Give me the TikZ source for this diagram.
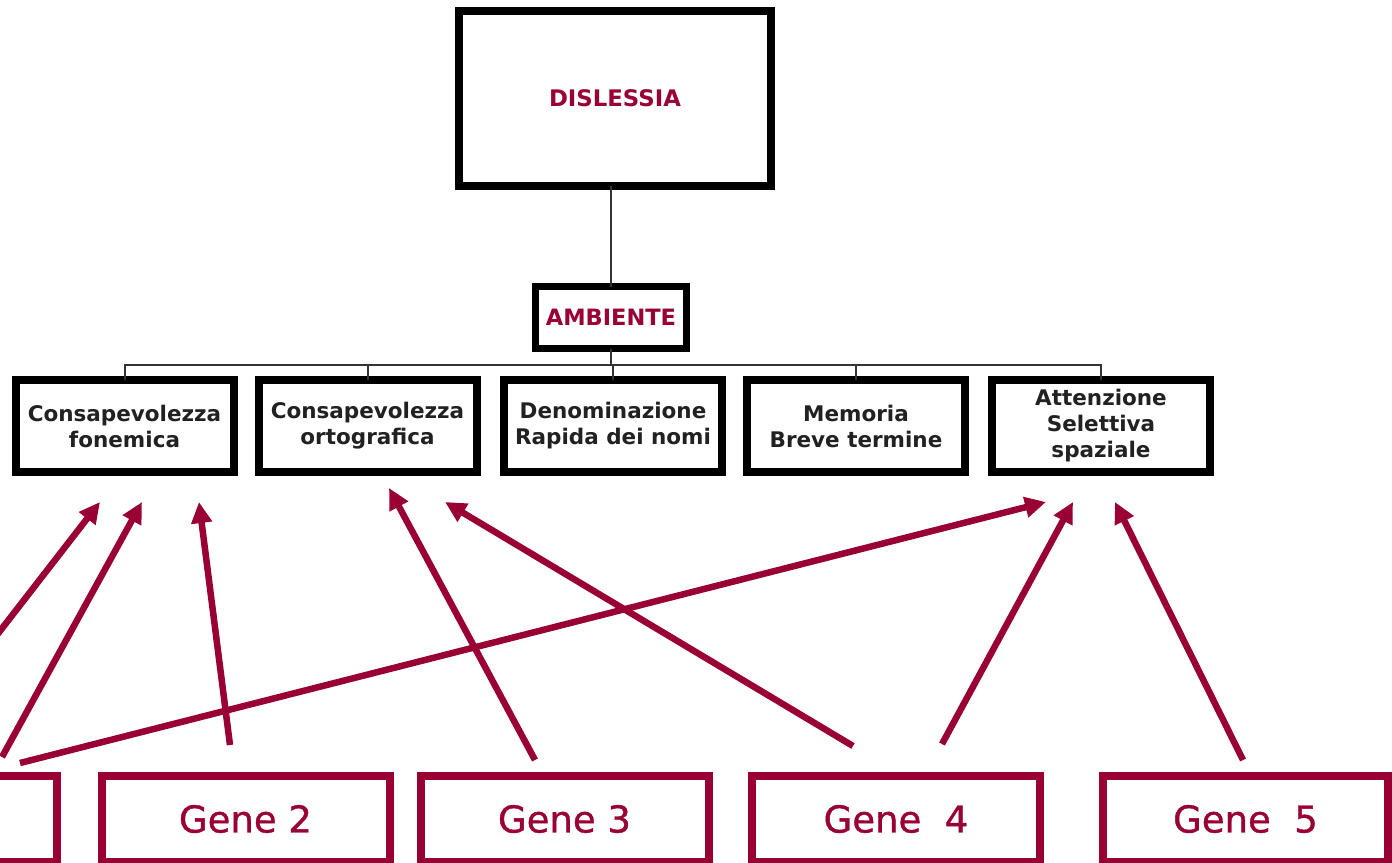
\documentclass[tikz,border=0pt]{standalone}
\usepackage{fontspec}
\setmainfont{DejaVu Sans}
\newfontfamily\genefont[FakeBold=1]{DejaVu Sans}
\usetikzlibrary{arrows.meta,calc}
\definecolor{genered}{RGB}{153,0,51}
\begin{document}
\begin{tikzpicture}[x=1pt,y=-1pt,
  blackbox/.style={draw=black,line width=8pt,outer sep=0pt,fill=white,
    align=center,inner sep=0pt},
  featbox/.style={blackbox,minimum width=218pt,minimum height=92pt,
    font=\fontsize{21.5}{26}\selectfont\bfseries,text=black!87},
  genebox/.style={draw=genered,line width=8pt,outer sep=0pt,fill=white,
    minimum width=288pt,minimum height=86pt,inner sep=0pt,text=genered,
    font=\genefont\fontsize{37}{42}\selectfont},
  treeline/.style={draw=black!80,line width=2pt},
  genearrow/.style={draw=genered,line width=6.5pt,
    -{Triangle[length=21pt,width=20pt]}}]
\useasboundingbox (0,0) rectangle (1392,862);
\clip (0,0) rectangle (1392,862);

% hierarchy at the top
\node[blackbox,minimum width=312pt,minimum height=175pt,text=genered,
  font=\fontsize{22.8}{26}\selectfont\bfseries] (dis) at (615,98.5) {DISLESSIA};
\node[blackbox,line width=7pt,minimum width=151pt,minimum height=62pt,
  text=genered,font=\fontsize{22.5}{26}\selectfont\bfseries] (amb) at (611,317.5) {AMBIENTE};

\node[featbox] (fon) at (124.5,426) {Consapevolezza\\fonemica};
\node[featbox] (ort) at (367.5,426) {Consapevolezza\\ortografica};
\node[featbox] (den) at (613,426)   {Denominazione\\Rapida dei nomi};
\node[featbox] (mem) at (856,426)   {Memoria\\Breve termine};
\node[featbox] (att) at (1101,426)  {Attenzione\\Selettiva\\spaziale};

% tree connectors
\coordinate (bus) at (0,365);
\draw[treeline] (amb.north) -- (amb.north |- dis.south);
\draw[treeline] (amb.south) -- (amb.south |- bus);
\draw[treeline] (fon.north) -- (fon.north |- bus) -- (att.north |- bus) -- (att.north);
\draw[treeline] (ort.north) -- (ort.north |- bus);
\draw[treeline] (den.north) -- (den.north |- bus);
\draw[treeline] (mem.north) -- (mem.north |- bus);

% genes
\node[genebox] (g1) at (-87,819) {};
\node[genebox] (g2) at (245.5,819) {Gene 2};
\node[genebox] (g3) at (564.5,819) {Gene 3};
\node[genebox] (g4) at (896,819) {Gene~~4};
\node[genebox,minimum width=285pt] (g5) at (1245.5,819) {Gene~~5};

% gene-to-function arrows
\draw[genearrow] ($(g1.north)+(-13,-16)$) -- ($(fon.south)+(-24.5,30)$);
\draw[genearrow] ($(g1.north)+(89,-19)$)  -- ($(fon.south)+(17.5,30)$);
\draw[genearrow] ($(g2.north)+(-15.5,-31)$) -- ($(fon.south)+(74.5,30)$);
\draw[genearrow] ($(g1.north)+(107,-13)$) -- ($(att.south)+(-55,30)$);
\draw[genearrow] ($(g3.north)+(-29.5,-16)$) -- ($(ort.south)+(21.5,16)$);
\draw[genearrow] ($(g4.north)+(-43,-30)$) -- ($(ort.south)+(77.5,30)$);
\draw[genearrow] ($(g4.north)+(46,-32)$)  -- ($(att.south)+(-28,30)$);
\draw[genearrow] ($(g5.north)+(-2.5,-16)$) -- ($(att.south)+(14,30)$);
\end{tikzpicture}
\end{document}
